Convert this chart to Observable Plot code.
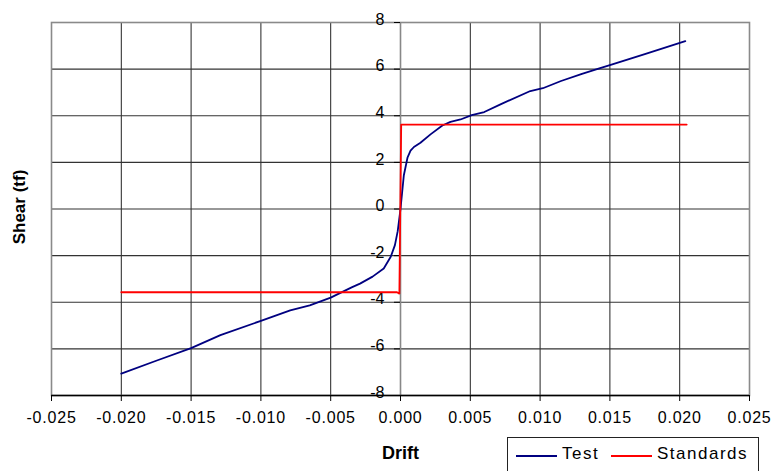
<!DOCTYPE html>
<html>
<head>
<meta charset="utf-8">
<script src="https://cdn.jsdelivr.net/npm/d3@7"></script>
<script src="https://cdn.jsdelivr.net/npm/@observablehq/plot@0.6"></script>
<style>
  body { margin: 0; background: #fff; font-family: "Liberation Sans", Arial, sans-serif; }
  #chart { position: relative; width: 773px; height: 471px; overflow: hidden; }
  g[aria-label="x-axis tick label"] text { letter-spacing: 0.8px; }
  g[aria-label="y tick label"] text { letter-spacing: 0.8px; }
  g[aria-label="drift label"] text { letter-spacing: 1px; }
  g[aria-label="shear label"] text { letter-spacing: 2px; }
  .legend {
    position: absolute; left: 507px; top: 437px; width: 252px; height: 40px;
    border: 1px solid #222; background: #fff; box-sizing: border-box;
    font-size: 17px; letter-spacing: 1.5px; color: #000;
  }
  .legend .item { position: absolute; top: 6px; display: flex; align-items: center; }
  .legend .swatch { display: inline-block; width: 41px; height: 0; border-top: 2px solid; margin-right: 5px; margin-top: 4px; }
</style>
</head>
<body>
<div id="chart"></div>
<script>
// Test curve: storey drift vs. shear force
const testDrift = [-0.0200, -0.0175, -0.0150, -0.0129, -0.0100, -0.0091, -0.0079, -0.0065, -0.0050,
  -0.0035, -0.0029, -0.0020, -0.0012, -0.0007, -0.0004, -0.0002, 0.0000, 0.00024, 0.0005, 0.00072,
  0.00096, 0.00143, 0.00215, 0.0030, 0.00358, 0.0043, 0.0051, 0.0060, 0.0072, 0.0093, 0.0102,
  0.0115, 0.0130, 0.0143, 0.0150, 0.0175, 0.0204];
const testShear = [-7.06, -6.51, -5.97, -5.41, -4.80, -4.61, -4.35, -4.13, -3.80,
  -3.36, -3.20, -2.90, -2.55, -2.05, -1.55, -0.95, 0.00, 1.45, 2.20, 2.50,
  2.66, 2.84, 3.20, 3.58, 3.74, 3.84, 4.03, 4.16, 4.50, 5.06, 5.18,
  5.49, 5.80, 6.04, 6.17, 6.64, 7.20];

// Design standard (bilinear envelope)
const standardsDrift = [-0.0200, -0.00025, -0.00008, 0.00005, 0.0205];
const standardsShear = [-3.57, -3.57, -3.63, 3.62, 3.62];

// Axis ticks
const xTicks = [-0.025, -0.020, -0.015, -0.010, -0.005, 0, 0.005, 0.010, 0.015, 0.020, 0.025];
const yTicks = [-8, -6, -4, -2, 0, 2, 4, 6, 8];

const test = testDrift.map((d, i) => ({drift: d, shear: testShear[i]}));
const standards = standardsDrift.map((d, i) => ({drift: d, shear: standardsShear[i]}));

const xMin = xTicks[0], xMax = xTicks[xTicks.length - 1];
const yMin = yTicks[0], yMax = yTicks[yTicks.length - 1];

const plot = Plot.plot({
  width: 773,
  height: 471,
  marginTop: 22,
  marginBottom: 76,
  marginLeft: 51,
  marginRight: 24,
  style: {fontFamily: "'Liberation Sans', Arial, sans-serif", fontSize: "16px", color: "#000", background: "#fff"},
  x: {domain: [xMin, xMax], axis: null},
  y: {domain: [yMin, yMax], axis: null},
  marks: [
    // inner gridlines
    Plot.gridX(xTicks.filter(d => d !== xMin && d !== xMax), {stroke: "#222", strokeOpacity: 1, strokeWidth: 1}),
    Plot.gridY(yTicks.filter(d => d !== yMin && d !== yMax), {stroke: "#333", strokeOpacity: 1, strokeWidth: 1.2}),
    // plot-area border
    Plot.frame({stroke: "#8a8a8a", strokeWidth: 1.6}),
    // value axis crossing at zero drift
    Plot.ruleX([0], {stroke: "#888", strokeWidth: 1.6}),
    Plot.ruleY(yTicks, {y: d => d, x1: 0, x2: 0, insetLeft: -6, stroke: "#000"}),
    Plot.text(yTicks, {x: 0, y: d => d, text: d => String(d), textAnchor: "end", dx: -16, dy: -3,
      fontSize: 16, fill: "#000", ariaLabel: "y tick label"}),
    // category axis along the bottom
    Plot.ruleY([yMin], {stroke: "#000", strokeWidth: 1.5}),
    Plot.axisX(xTicks, {anchor: "bottom", tickSize: 6, tickPadding: 10, label: null,
      tickFormat: d => d.toFixed(3), stroke: "#000", fill: "#000", fontSize: 16}),
    // axis titles
    Plot.text(["Drift"], {frameAnchor: "bottom", lineAnchor: "middle", textAnchor: "middle", dy: 58,
      text: d => d, fontWeight: "bold", fontSize: 18, fill: "#000", ariaLabel: "drift label"}),
    Plot.text(["Shear (tf)"], {frameAnchor: "left", textAnchor: "middle", lineAnchor: "middle",
      dx: -32, dy: -2, rotate: -90, text: d => d,
      fontWeight: "bold", fontSize: 17, fill: "#000", ariaLabel: "shear label"}),
    // series
    Plot.line(test, {x: "drift", y: "shear", stroke: "#000080", strokeWidth: 1.8, curve: "linear"}),
    Plot.line(standards, {x: "drift", y: "shear", stroke: "#ff0000", strokeWidth: 1.8, curve: "linear"})
  ]
});

const chart = document.getElementById("chart");
chart.appendChild(plot);

// legend below the plot area, beside the drift title
const legend = document.createElement("div");
legend.className = "legend";
legend.innerHTML =
  '<div class="item" style="left:8px"><span class="swatch" style="border-color:#000080"></span>Test</div>' +
  '<div class="item" style="left:103px"><span class="swatch" style="border-color:#ff0000"></span>Standards</div>';
chart.appendChild(legend);
</script>
</body>
</html>
